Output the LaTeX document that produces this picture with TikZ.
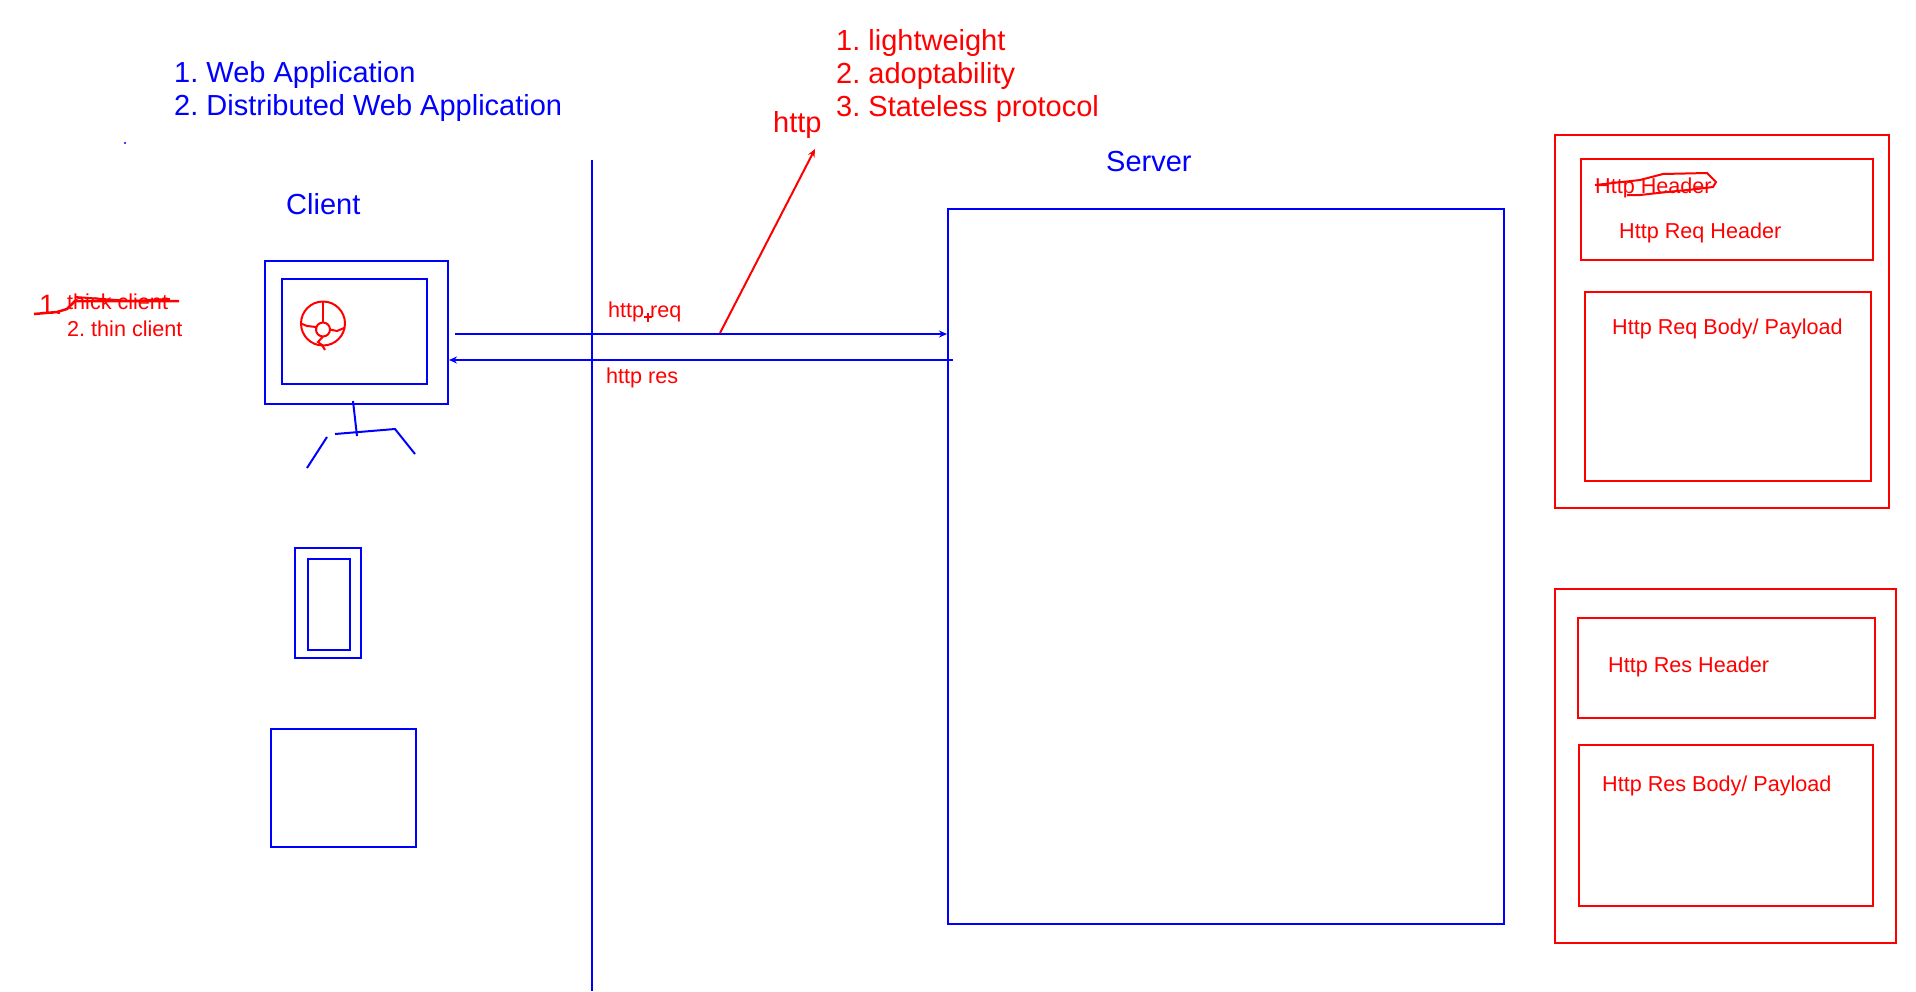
\documentclass[tikz,border=0pt]{standalone}
\usepackage{fontspec}
\setmainfont{Liberation Sans}
\usepackage{tikz}
\usetikzlibrary{arrows.meta,positioning}
\definecolor{penblue}{RGB}{0,0,255}
\definecolor{penred}{RGB}{255,0,0}
\tikzstyle{arrow}=[-{Stealth[length=8pt,width=7pt]}, line width=2pt, draw=penblue]
\newcommand{\fsize}[1]{\fontsize{#1}{#1}\selectfont}

\begin{document}
\frenchspacing
\begin{tikzpicture}[x=1pt,y=-1pt,
  bluebox/.style={rectangle,draw=penblue,line width=2pt,inner sep=0pt,outer sep=0pt},
  redbox/.style={rectangle,draw=penred,line width=2pt,inner sep=0pt,outer sep=0pt},
  pen/.style={draw=penblue,line width=2pt},
  redpen/.style={draw=penred,line width=2pt},
  lbl/.style={anchor=base west,inner sep=0pt,text=penred,font=\fsize{21.6}},
  big/.style={anchor=base west,inner sep=0pt,align=left,font=\fontsize{29}{33}\selectfont}]
\useasboundingbox (0,0) rectangle (1916,991);

% client devices and server
\foreach \n/\x/\y/\w/\h in {monitor/356.5/332.3/183/143, screen/354.5/331.3/145/105,
  phone/327.5/603.3/66/110, phonescreen/328.75/604.3/41.5/91,
  tablet/343.25/787.8/144.5/118, server/1226/566.3/556/715} {
  \node[bluebox,minimum width=\w pt,minimum height=\h pt] (\n) at (\x,\y) {};
}
% http message boxes
\foreach \n/\x/\y/\w/\h in {reqbox/1722/321.3/334/373, reqhead/1727/209.3/292/101,
  reqbody/1728/386.3/286/189, resbox/1725.5/765.8/341/354,
  reshead/1726.5/667.8/297/100, resbody/1726/825.3/294/161} {
  \node[redbox,minimum width=\w pt,minimum height=\h pt] (\n) at (\x,\y) {};
}

% divider
\coordinate (divtop) at (591.5,160);
\coordinate (divbot) at (591.5,991);
\draw[pen] (divtop)--(divbot);

% request and response
\coordinate (reqstart) at (455,334);
\coordinate (reqend) at (947,334);
\coordinate (resstart) at (953,360);
\coordinate (resend) at (449,360);
\draw[arrow] (reqstart)--(reqend);
\draw[arrow] (resstart)--(resend);
\coordinate (httpfoot) at (720,333);
\coordinate (httptip) at (815,149);
\draw[-{Stealth[length=8pt,width=7pt]},redpen] (httpfoot)--(httptip);

% monitor stand
\draw[pen] (353,401)--(357,436);
\draw[pen] (335,434)--(395,429)--(415,454);
\draw[pen] (327,437)--(307,468);

% browser icon
\node[redbox,circle,minimum size=44pt] (globe) at (323,323.5) {};
\node[redbox,circle,minimum size=14pt] (hub) at (323,329.5) {};
\draw[redpen] (globe.north)--(hub.north);
\draw[redpen] (globe.west)--(307,326)--(316,327)--(hub.west);
\draw[redpen] (344,328)--(337,331)--(hub.east);
\draw[redpen] (hub.south)--(318,342)--(322,345)--(325,350);

% titles
\node[big,text=penblue] (apps) at (174,115) {1. Web Application\\2. Distributed Web Application};
\node[big,text=penred] (props) at (836,116) {1. lightweight\\2. adoptability\\3. Stateless protocol};
\node[big,text=penred,font=\fsize{29}] (httptxt) at (773,132) {http};
\node[big,text=penblue,font=\fsize{29}] (client) at (286,214) {Client};
\node[big,text=penblue,font=\fsize{29}] (servertxt) at (1106,171) {Server};
\fill[penblue] (125,143) circle (1.2pt);

% client kinds
\node[lbl,font=\fsize{28}] (one) at (39,314) {1.};
\node[lbl] (thick) at (67,309) {thick client};
\node[lbl] (thin) at (67,336) {2. thin client};
\draw[redpen,line width=2.5pt] (34,314)--(57,312)--(67,309)--(75,301)--(179,301);
\draw[redpen] (75,297)--(130,301)--(170,299);

% message labels
\node[lbl] (reqtxt) at (608,317) {http req};
\draw[draw=penred,line width=1.5pt] (644,317)--(652,317) (648,313)--(648,322);
\node[lbl] (restxt) at (606,383) {http res};
\node[lbl] (hdrold) at (1595,193) {Http Header};
\draw[redpen] (1595,185)--(1640,180)--(1663,174)--(1707,173)--(1716,182)--(1713,187)--(1697,189)--(1667,192)--(1640,195)--(1627,195);
\node[lbl] (reqhdr) at (1619,238) {Http Req Header};
\node[lbl] (reqpay) at (1612,334) {Http Req Body/ Payload};
\node[lbl] (reshdr) at (1608,672) {Http Res Header};
\node[lbl] (respay) at (1602,791) {Http Res Body/ Payload};
\end{tikzpicture}
\end{document}
